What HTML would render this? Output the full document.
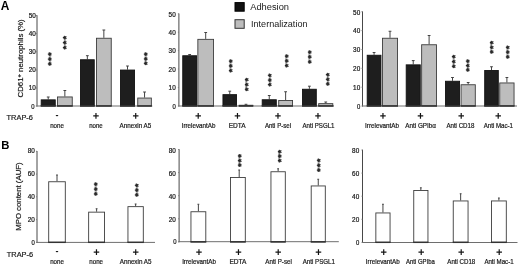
<!DOCTYPE html>
<html><head><meta charset="utf-8"><title>Figure</title>
<style>
html,body{margin:0;padding:0;background:#fff;}
body{width:520px;height:265px;overflow:hidden;}
svg{display:block;will-change:transform;filter:blur(0.3px);font-family:"Liberation Sans",Arial,sans-serif;}
</style></head><body>
<svg width="520" height="265" viewBox="0 0 520 265">
<rect x="0" y="0" width="520" height="265" fill="#ffffff"/>
<text x="0.7" y="9.5" font-size="11.9" text-anchor="start" fill="#000" font-weight="bold" >A</text>
<text x="1.2" y="149.2" font-size="11.3" text-anchor="start" fill="#000" font-weight="bold" >B</text>
<rect x="235" y="2.6" width="9.2" height="8.6" fill="#111" stroke="#000" stroke-width="1"/>
<text x="250.2" y="9.8" font-size="9.2" text-anchor="start" fill="#1a1a1a" textLength="38.8" lengthAdjust="spacingAndGlyphs" >Adhesion</text>
<rect x="235" y="19.7" width="9.2" height="8.6" fill="#bdbdbd" stroke="#333" stroke-width="1"/>
<text x="251.0" y="27.3" font-size="9.2" text-anchor="start" fill="#1a1a1a" textLength="56.5" lengthAdjust="spacingAndGlyphs" >Internalization</text>
<line x1="37" y1="15.2" x2="37" y2="106.5" stroke="#484848" stroke-width="1.0"/>
<line x1="36.5" y1="106" x2="152.3" y2="106" stroke="#6e6e6e" stroke-width="1.0"/>
<line x1="35.8" y1="106" x2="37" y2="106" stroke="#777" stroke-width="0.9"/>
<text x="34.5" y="109.0" font-size="6.5" text-anchor="end" fill="#1a1a1a" textLength="3.3" lengthAdjust="spacingAndGlyphs" stroke="#1a1a1a" stroke-width="0.22">0</text>
<line x1="35.8" y1="88" x2="37" y2="88" stroke="#777" stroke-width="0.9"/>
<text x="35.8" y="90.1" font-size="6.5" text-anchor="end" fill="#1a1a1a" textLength="7.1" lengthAdjust="spacingAndGlyphs" stroke="#1a1a1a" stroke-width="0.22">10</text>
<line x1="35.8" y1="70" x2="37" y2="70" stroke="#777" stroke-width="0.9"/>
<text x="35.8" y="72.1" font-size="6.5" text-anchor="end" fill="#1a1a1a" textLength="7.1" lengthAdjust="spacingAndGlyphs" stroke="#1a1a1a" stroke-width="0.22">20</text>
<line x1="35.8" y1="51.8" x2="37" y2="51.8" stroke="#777" stroke-width="0.9"/>
<text x="35.8" y="53.9" font-size="6.5" text-anchor="end" fill="#1a1a1a" textLength="7.1" lengthAdjust="spacingAndGlyphs" stroke="#1a1a1a" stroke-width="0.22">30</text>
<line x1="35.8" y1="33.6" x2="37" y2="33.6" stroke="#777" stroke-width="0.9"/>
<text x="35.8" y="35.7" font-size="6.5" text-anchor="end" fill="#1a1a1a" textLength="7.1" lengthAdjust="spacingAndGlyphs" stroke="#1a1a1a" stroke-width="0.22">40</text>
<line x1="35.8" y1="15.5" x2="37" y2="15.5" stroke="#777" stroke-width="0.9"/>
<text x="35.8" y="17.6" font-size="6.5" text-anchor="end" fill="#1a1a1a" textLength="7.1" lengthAdjust="spacingAndGlyphs" stroke="#1a1a1a" stroke-width="0.22">50</text>
<line x1="178.9" y1="13.5" x2="178.9" y2="106.5" stroke="#484848" stroke-width="1.0"/>
<line x1="178.4" y1="106" x2="334" y2="106" stroke="#6e6e6e" stroke-width="1.0"/>
<line x1="177.9" y1="106" x2="178.9" y2="106" stroke="#777" stroke-width="0.9"/>
<text x="175.70000000000002" y="108.69999999999999" font-size="6.5" text-anchor="end" fill="#1a1a1a" textLength="3.3" lengthAdjust="spacingAndGlyphs" stroke="#1a1a1a" stroke-width="0.22">0</text>
<line x1="177.9" y1="87.5" x2="178.9" y2="87.5" stroke="#777" stroke-width="0.9"/>
<text x="175.70000000000002" y="90.19999999999999" font-size="6.5" text-anchor="end" fill="#1a1a1a" textLength="7.1" lengthAdjust="spacingAndGlyphs" stroke="#1a1a1a" stroke-width="0.22">10</text>
<line x1="177.9" y1="69" x2="178.9" y2="69" stroke="#777" stroke-width="0.9"/>
<text x="175.70000000000002" y="71.69999999999999" font-size="6.5" text-anchor="end" fill="#1a1a1a" textLength="7.1" lengthAdjust="spacingAndGlyphs" stroke="#1a1a1a" stroke-width="0.22">20</text>
<line x1="177.9" y1="50.6" x2="178.9" y2="50.6" stroke="#777" stroke-width="0.9"/>
<text x="175.70000000000002" y="53.300000000000004" font-size="6.5" text-anchor="end" fill="#1a1a1a" textLength="7.1" lengthAdjust="spacingAndGlyphs" stroke="#1a1a1a" stroke-width="0.22">30</text>
<line x1="177.9" y1="32.2" x2="178.9" y2="32.2" stroke="#777" stroke-width="0.9"/>
<text x="175.70000000000002" y="34.900000000000006" font-size="6.5" text-anchor="end" fill="#1a1a1a" textLength="7.1" lengthAdjust="spacingAndGlyphs" stroke="#1a1a1a" stroke-width="0.22">40</text>
<line x1="177.9" y1="13.8" x2="178.9" y2="13.8" stroke="#777" stroke-width="0.9"/>
<text x="175.70000000000002" y="16.5" font-size="6.5" text-anchor="end" fill="#1a1a1a" textLength="7.1" lengthAdjust="spacingAndGlyphs" stroke="#1a1a1a" stroke-width="0.22">50</text>
<line x1="362.5" y1="11.399999999999999" x2="362.5" y2="106.5" stroke="#484848" stroke-width="1.0"/>
<line x1="362.0" y1="106" x2="517" y2="106" stroke="#6e6e6e" stroke-width="1.0"/>
<line x1="361.5" y1="106" x2="362.5" y2="106" stroke="#777" stroke-width="0.9"/>
<text x="360.2" y="108.8" font-size="6.5" text-anchor="end" fill="#1a1a1a" textLength="3.3" lengthAdjust="spacingAndGlyphs" stroke="#1a1a1a" stroke-width="0.22">0</text>
<line x1="361.5" y1="87.2" x2="362.5" y2="87.2" stroke="#777" stroke-width="0.9"/>
<text x="360.2" y="90.0" font-size="6.5" text-anchor="end" fill="#1a1a1a" textLength="7.1" lengthAdjust="spacingAndGlyphs" stroke="#1a1a1a" stroke-width="0.22">10</text>
<line x1="361.5" y1="68.3" x2="362.5" y2="68.3" stroke="#777" stroke-width="0.9"/>
<text x="360.2" y="71.1" font-size="6.5" text-anchor="end" fill="#1a1a1a" textLength="7.1" lengthAdjust="spacingAndGlyphs" stroke="#1a1a1a" stroke-width="0.22">20</text>
<line x1="361.5" y1="49.5" x2="362.5" y2="49.5" stroke="#777" stroke-width="0.9"/>
<text x="360.2" y="52.300000000000004" font-size="6.5" text-anchor="end" fill="#1a1a1a" textLength="7.1" lengthAdjust="spacingAndGlyphs" stroke="#1a1a1a" stroke-width="0.22">30</text>
<line x1="361.5" y1="30.6" x2="362.5" y2="30.6" stroke="#777" stroke-width="0.9"/>
<text x="360.2" y="33.400000000000006" font-size="6.5" text-anchor="end" fill="#1a1a1a" textLength="7.1" lengthAdjust="spacingAndGlyphs" stroke="#1a1a1a" stroke-width="0.22">40</text>
<line x1="361.5" y1="11.7" x2="362.5" y2="11.7" stroke="#777" stroke-width="0.9"/>
<text x="360.2" y="14.499999999999998" font-size="6.5" text-anchor="end" fill="#1a1a1a" textLength="7.1" lengthAdjust="spacingAndGlyphs" stroke="#1a1a1a" stroke-width="0.22">50</text>
<line x1="48.225" y1="97.0" x2="48.225" y2="99.4" stroke="#444444" stroke-width="1"/>
<line x1="46.825" y1="97.0" x2="49.625" y2="97.0" stroke="#444444" stroke-width="1"/>
<rect x="41.2" y="99.85000000000001" width="14.050000000000002" height="6.149999999999994" fill="#1e1e1e" stroke="#111" stroke-width="0.9"/>
<line x1="40.75" y1="105.9" x2="55.7" y2="105.9" stroke="#333" stroke-width="1.5"/>
<line x1="64.85" y1="90.5" x2="64.85" y2="96.5" stroke="#444444" stroke-width="1"/>
<line x1="63.449999999999996" y1="90.5" x2="66.25" y2="90.5" stroke="#444444" stroke-width="1"/>
<rect x="57.45" y="96.95" width="14.800000000000002" height="9.05" fill="#bdbdbd" stroke="#3c3c3c" stroke-width="0.9"/>
<line x1="57" y1="105.9" x2="72.7" y2="105.9" stroke="#333" stroke-width="1.5"/>
<line x1="87.35" y1="55.7" x2="87.35" y2="59.3" stroke="#444444" stroke-width="1"/>
<line x1="85.94999999999999" y1="55.7" x2="88.75" y2="55.7" stroke="#444444" stroke-width="1"/>
<rect x="80.45" y="59.75" width="13.800000000000002" height="46.25" fill="#1e1e1e" stroke="#111" stroke-width="0.9"/>
<line x1="80" y1="105.9" x2="94.7" y2="105.9" stroke="#333" stroke-width="1.5"/>
<line x1="103.85" y1="30" x2="103.85" y2="37.8" stroke="#444444" stroke-width="1"/>
<line x1="102.44999999999999" y1="30" x2="105.25" y2="30" stroke="#444444" stroke-width="1"/>
<rect x="96.45" y="38.25" width="14.800000000000002" height="67.75" fill="#bdbdbd" stroke="#3c3c3c" stroke-width="0.9"/>
<line x1="96" y1="105.9" x2="111.7" y2="105.9" stroke="#333" stroke-width="1.5"/>
<line x1="127.5" y1="66" x2="127.5" y2="69.6" stroke="#444444" stroke-width="1"/>
<line x1="126.1" y1="66" x2="128.9" y2="66" stroke="#444444" stroke-width="1"/>
<rect x="120.45" y="70.05" width="14.1" height="35.95" fill="#1e1e1e" stroke="#111" stroke-width="0.9"/>
<line x1="120" y1="105.9" x2="135" y2="105.9" stroke="#333" stroke-width="1.5"/>
<line x1="144.55" y1="92" x2="144.55" y2="97.6" stroke="#444444" stroke-width="1"/>
<line x1="143.15" y1="92" x2="145.95000000000002" y2="92" stroke="#444444" stroke-width="1"/>
<rect x="137.75" y="98.05" width="13.6" height="7.9500000000000055" fill="#bdbdbd" stroke="#3c3c3c" stroke-width="0.9"/>
<line x1="137.3" y1="105.9" x2="151.8" y2="105.9" stroke="#333" stroke-width="1.5"/>
<line x1="189.65" y1="54.5" x2="189.65" y2="55.3" stroke="#444444" stroke-width="1"/>
<line x1="188.25" y1="54.5" x2="191.05" y2="54.5" stroke="#444444" stroke-width="1"/>
<rect x="182.75" y="55.75" width="13.799999999999988" height="50.25" fill="#1e1e1e" stroke="#111" stroke-width="0.9"/>
<line x1="182.3" y1="105.9" x2="197.0" y2="105.9" stroke="#333" stroke-width="1.5"/>
<line x1="205.7" y1="32.5" x2="205.7" y2="38.9" stroke="#444444" stroke-width="1"/>
<line x1="204.29999999999998" y1="32.5" x2="207.1" y2="32.5" stroke="#444444" stroke-width="1"/>
<rect x="197.85" y="39.35" width="15.699999999999994" height="66.64999999999999" fill="#bdbdbd" stroke="#3c3c3c" stroke-width="0.9"/>
<line x1="197.4" y1="105.9" x2="214" y2="105.9" stroke="#333" stroke-width="1.5"/>
<line x1="229.75" y1="91.2" x2="229.75" y2="94.2" stroke="#444444" stroke-width="1"/>
<line x1="228.35" y1="91.2" x2="231.15" y2="91.2" stroke="#444444" stroke-width="1"/>
<rect x="222.95" y="94.65" width="13.6" height="11.349999999999998" fill="#1e1e1e" stroke="#111" stroke-width="0.9"/>
<line x1="222.5" y1="105.9" x2="237" y2="105.9" stroke="#333" stroke-width="1.5"/>
<line x1="246.0" y1="104.3" x2="246.0" y2="104.8" stroke="#444444" stroke-width="1"/>
<line x1="244.6" y1="104.3" x2="247.4" y2="104.3" stroke="#444444" stroke-width="1"/>
<rect x="239.2" y="105.25" width="13.6" height="0.7500000000000029" fill="#bdbdbd" stroke="#3c3c3c" stroke-width="0.9"/>
<line x1="238.75" y1="105.9" x2="253.25" y2="105.9" stroke="#333" stroke-width="1.5"/>
<line x1="269.25" y1="95.5" x2="269.25" y2="99.3" stroke="#444444" stroke-width="1"/>
<line x1="267.85" y1="95.5" x2="270.65" y2="95.5" stroke="#444444" stroke-width="1"/>
<rect x="262.2" y="99.75" width="14.1" height="6.250000000000003" fill="#1e1e1e" stroke="#111" stroke-width="0.9"/>
<line x1="261.75" y1="105.9" x2="276.75" y2="105.9" stroke="#333" stroke-width="1.5"/>
<line x1="285.625" y1="91.75" x2="285.625" y2="100" stroke="#444444" stroke-width="1"/>
<line x1="284.225" y1="91.75" x2="287.025" y2="91.75" stroke="#444444" stroke-width="1"/>
<rect x="278.7" y="100.45" width="13.85" height="5.55" fill="#bdbdbd" stroke="#3c3c3c" stroke-width="0.9"/>
<line x1="278.25" y1="105.9" x2="293" y2="105.9" stroke="#333" stroke-width="1.5"/>
<line x1="309.375" y1="86.2" x2="309.375" y2="88.8" stroke="#444444" stroke-width="1"/>
<line x1="307.975" y1="86.2" x2="310.775" y2="86.2" stroke="#444444" stroke-width="1"/>
<rect x="302.45" y="89.25" width="13.85" height="16.750000000000004" fill="#1e1e1e" stroke="#111" stroke-width="0.9"/>
<line x1="302" y1="105.9" x2="316.75" y2="105.9" stroke="#333" stroke-width="1.5"/>
<line x1="325.75" y1="102" x2="325.75" y2="103.2" stroke="#444444" stroke-width="1"/>
<line x1="324.35" y1="102" x2="327.15" y2="102" stroke="#444444" stroke-width="1"/>
<rect x="318.7" y="103.65" width="14.1" height="2.349999999999997" fill="#bdbdbd" stroke="#3c3c3c" stroke-width="0.9"/>
<line x1="318.25" y1="105.9" x2="333.25" y2="105.9" stroke="#333" stroke-width="1.5"/>
<line x1="374.075" y1="52.5" x2="374.075" y2="54.8" stroke="#444444" stroke-width="1"/>
<line x1="372.675" y1="52.5" x2="375.47499999999997" y2="52.5" stroke="#444444" stroke-width="1"/>
<rect x="367.2" y="55.25" width="13.749999999999977" height="50.75" fill="#1e1e1e" stroke="#111" stroke-width="0.9"/>
<line x1="366.75" y1="105.9" x2="381.4" y2="105.9" stroke="#333" stroke-width="1.5"/>
<line x1="390.0" y1="31.25" x2="390.0" y2="37.8" stroke="#444444" stroke-width="1"/>
<line x1="388.6" y1="31.25" x2="391.4" y2="31.25" stroke="#444444" stroke-width="1"/>
<rect x="382.45" y="38.25" width="15.1" height="67.75" fill="#bdbdbd" stroke="#3c3c3c" stroke-width="0.9"/>
<line x1="382.0" y1="105.9" x2="398.0" y2="105.9" stroke="#333" stroke-width="1.5"/>
<line x1="413.225" y1="60.6" x2="413.225" y2="64.4" stroke="#444444" stroke-width="1"/>
<line x1="411.82500000000005" y1="60.6" x2="414.625" y2="60.6" stroke="#444444" stroke-width="1"/>
<rect x="406.2" y="64.85000000000001" width="14.049999999999988" height="41.14999999999999" fill="#1e1e1e" stroke="#111" stroke-width="0.9"/>
<line x1="405.75" y1="105.9" x2="420.7" y2="105.9" stroke="#333" stroke-width="1.5"/>
<line x1="429.1" y1="35.5" x2="429.1" y2="44.3" stroke="#444444" stroke-width="1"/>
<line x1="427.70000000000005" y1="35.5" x2="430.5" y2="35.5" stroke="#444444" stroke-width="1"/>
<rect x="421.65" y="44.75" width="14.900000000000011" height="61.25" fill="#bdbdbd" stroke="#3c3c3c" stroke-width="0.9"/>
<line x1="421.2" y1="105.9" x2="437.0" y2="105.9" stroke="#333" stroke-width="1.5"/>
<line x1="452.5" y1="77.5" x2="452.5" y2="80.8" stroke="#444444" stroke-width="1"/>
<line x1="451.1" y1="77.5" x2="453.9" y2="77.5" stroke="#444444" stroke-width="1"/>
<rect x="445.45" y="81.25" width="14.1" height="24.750000000000004" fill="#1e1e1e" stroke="#111" stroke-width="0.9"/>
<line x1="445" y1="105.9" x2="460" y2="105.9" stroke="#333" stroke-width="1.5"/>
<line x1="468.175" y1="82.5" x2="468.175" y2="84.3" stroke="#444444" stroke-width="1"/>
<line x1="466.77500000000003" y1="82.5" x2="469.575" y2="82.5" stroke="#444444" stroke-width="1"/>
<rect x="461.05" y="84.75" width="14.249999999999977" height="21.250000000000004" fill="#bdbdbd" stroke="#3c3c3c" stroke-width="0.9"/>
<line x1="460.6" y1="105.9" x2="475.75" y2="105.9" stroke="#333" stroke-width="1.5"/>
<line x1="491.5" y1="66.75" x2="491.5" y2="70" stroke="#444444" stroke-width="1"/>
<line x1="490.1" y1="66.75" x2="492.9" y2="66.75" stroke="#444444" stroke-width="1"/>
<rect x="484.7" y="70.45" width="13.6" height="35.55" fill="#1e1e1e" stroke="#111" stroke-width="0.9"/>
<line x1="484.25" y1="105.9" x2="498.75" y2="105.9" stroke="#333" stroke-width="1.5"/>
<line x1="506.9" y1="77.5" x2="506.9" y2="82.5" stroke="#444444" stroke-width="1"/>
<line x1="505.5" y1="77.5" x2="508.29999999999995" y2="77.5" stroke="#444444" stroke-width="1"/>
<rect x="499.75" y="82.95" width="14.299999999999988" height="23.05" fill="#bdbdbd" stroke="#3c3c3c" stroke-width="0.9"/>
<line x1="499.3" y1="105.9" x2="514.5" y2="105.9" stroke="#333" stroke-width="1.5"/>
<rect x="48.90" y="52.80" width="2.2" height="12.80" fill="#444" opacity="0.42"/>
<text x="0" y="0" font-size="8.6" font-weight="bold" text-anchor="middle" fill="#222" stroke="#222" stroke-width="0.3" transform="translate(48.60 59.05) rotate(-90)" dy="5.75" textLength="13.10" lengthAdjust="spacing">***</text>
<rect x="63.90" y="36.30" width="2.2" height="13.05" fill="#444" opacity="0.42"/>
<text x="0" y="0" font-size="8.6" font-weight="bold" text-anchor="middle" fill="#222" stroke="#222" stroke-width="0.3" transform="translate(63.60 42.67) rotate(-90)" dy="5.75" textLength="13.35" lengthAdjust="spacing">***</text>
<rect x="144.65" y="52.80" width="2.2" height="12.30" fill="#444" opacity="0.42"/>
<text x="0" y="0" font-size="8.6" font-weight="bold" text-anchor="middle" fill="#222" stroke="#222" stroke-width="0.3" transform="translate(144.35 58.80) rotate(-90)" dy="5.75" textLength="12.60" lengthAdjust="spacing">***</text>
<rect x="229.40" y="59.80" width="2.2" height="12.55" fill="#444" opacity="0.42"/>
<text x="0" y="0" font-size="8.6" font-weight="bold" text-anchor="middle" fill="#222" stroke="#222" stroke-width="0.3" transform="translate(229.10 65.92) rotate(-90)" dy="5.75" textLength="12.85" lengthAdjust="spacing">***</text>
<rect x="245.15" y="78.30" width="2.2" height="12.80" fill="#444" opacity="0.42"/>
<text x="0" y="0" font-size="8.6" font-weight="bold" text-anchor="middle" fill="#222" stroke="#222" stroke-width="0.3" transform="translate(244.85 84.55) rotate(-90)" dy="5.75" textLength="13.10" lengthAdjust="spacing">***</text>
<rect x="268.90" y="74.05" width="2.2" height="12.30" fill="#444" opacity="0.42"/>
<text x="0" y="0" font-size="8.6" font-weight="bold" text-anchor="middle" fill="#222" stroke="#222" stroke-width="0.3" transform="translate(268.60 80.05) rotate(-90)" dy="5.75" textLength="12.60" lengthAdjust="spacing">***</text>
<rect x="285.15" y="54.80" width="2.2" height="12.55" fill="#444" opacity="0.42"/>
<text x="0" y="0" font-size="8.6" font-weight="bold" text-anchor="middle" fill="#222" stroke="#222" stroke-width="0.3" transform="translate(284.85 60.92) rotate(-90)" dy="5.75" textLength="12.85" lengthAdjust="spacing">***</text>
<rect x="308.30" y="50.80" width="2.2" height="12.60" fill="#444" opacity="0.42"/>
<text x="0" y="0" font-size="8.6" font-weight="bold" text-anchor="middle" fill="#222" stroke="#222" stroke-width="0.3" transform="translate(308.00 56.95) rotate(-90)" dy="5.75" textLength="12.90" lengthAdjust="spacing">***</text>
<rect x="326.90" y="73.30" width="2.2" height="12.30" fill="#444" opacity="0.42"/>
<text x="0" y="0" font-size="8.6" font-weight="bold" text-anchor="middle" fill="#222" stroke="#222" stroke-width="0.3" transform="translate(326.60 79.30) rotate(-90)" dy="5.75" textLength="12.60" lengthAdjust="spacing">***</text>
<rect x="452.65" y="55.30" width="2.2" height="12.80" fill="#444" opacity="0.42"/>
<text x="0" y="0" font-size="8.6" font-weight="bold" text-anchor="middle" fill="#222" stroke="#222" stroke-width="0.3" transform="translate(452.35 61.55) rotate(-90)" dy="5.75" textLength="13.10" lengthAdjust="spacing">***</text>
<rect x="466.90" y="59.80" width="2.2" height="11.80" fill="#444" opacity="0.42"/>
<text x="0" y="0" font-size="8.6" font-weight="bold" text-anchor="middle" fill="#222" stroke="#222" stroke-width="0.3" transform="translate(466.60 65.55) rotate(-90)" dy="5.75" textLength="12.10" lengthAdjust="spacing">***</text>
<rect x="490.15" y="41.30" width="2.2" height="12.30" fill="#444" opacity="0.42"/>
<text x="0" y="0" font-size="8.6" font-weight="bold" text-anchor="middle" fill="#222" stroke="#222" stroke-width="0.3" transform="translate(489.85 47.30) rotate(-90)" dy="5.75" textLength="12.60" lengthAdjust="spacing">***</text>
<rect x="506.40" y="46.05" width="2.2" height="12.55" fill="#444" opacity="0.42"/>
<text x="0" y="0" font-size="8.6" font-weight="bold" text-anchor="middle" fill="#222" stroke="#222" stroke-width="0.3" transform="translate(506.10 52.17) rotate(-90)" dy="5.75" textLength="12.85" lengthAdjust="spacing">***</text>
<text x="23.2" y="58.4" font-size="7.4" text-anchor="middle" fill="#1a1a1a" textLength="78.2" lengthAdjust="spacingAndGlyphs" transform="rotate(-90 23.2 58.4)" stroke="#1a1a1a" stroke-width="0.2">CD61<tspan font-size="5.5" font-weight="bold" dy="-2.6">+</tspan><tspan dy="2.6"> neutrophils (%)</tspan></text>
<text x="20.6" y="196.6" font-size="7.4" text-anchor="middle" fill="#1a1a1a" textLength="68.4" lengthAdjust="spacingAndGlyphs" transform="rotate(-90 20.6 196.6)" stroke="#1a1a1a" stroke-width="0.2">MPO content (AUF)</text>
<text x="6.6" y="120.2" font-size="7.5" text-anchor="start" fill="#1a1a1a" textLength="26.3" lengthAdjust="spacingAndGlyphs" stroke="#1a1a1a" stroke-width="0.2">TRAP-6</text>
<text x="57.00" y="118.40" font-size="9" font-weight="bold" text-anchor="middle" fill="#111">-</text>
<text transform="translate(96.00 119.60) rotate(0.05)" font-size="11" font-weight="bold" text-anchor="middle" fill="#111">+</text>
<text transform="translate(135.75 119.60) rotate(0.05)" font-size="11" font-weight="bold" text-anchor="middle" fill="#111">+</text>
<text transform="translate(198.25 119.60) rotate(0.05)" font-size="11" font-weight="bold" text-anchor="middle" fill="#111">+</text>
<text transform="translate(237.50 119.60) rotate(0.05)" font-size="11" font-weight="bold" text-anchor="middle" fill="#111">+</text>
<text transform="translate(278.00 119.60) rotate(0.05)" font-size="11" font-weight="bold" text-anchor="middle" fill="#111">+</text>
<text transform="translate(318.00 119.60) rotate(0.05)" font-size="11" font-weight="bold" text-anchor="middle" fill="#111">+</text>
<text transform="translate(383.00 119.60) rotate(0.05)" font-size="11" font-weight="bold" text-anchor="middle" fill="#111">+</text>
<text transform="translate(420.50 119.60) rotate(0.05)" font-size="11" font-weight="bold" text-anchor="middle" fill="#111">+</text>
<text transform="translate(461.25 119.60) rotate(0.05)" font-size="11" font-weight="bold" text-anchor="middle" fill="#111">+</text>
<text transform="translate(498.25 119.60) rotate(0.05)" font-size="11" font-weight="bold" text-anchor="middle" fill="#111">+</text>
<text x="57" y="127.7" font-size="6.4" text-anchor="middle" fill="#1a1a1a" textLength="13.75" lengthAdjust="spacingAndGlyphs" stroke="#1a1a1a" stroke-width="0.2">none</text>
<text x="96" y="127.7" font-size="6.4" text-anchor="middle" fill="#1a1a1a" textLength="13.5" lengthAdjust="spacingAndGlyphs" stroke="#1a1a1a" stroke-width="0.2">none</text>
<text x="135.4" y="127.7" font-size="6.4" text-anchor="middle" fill="#1a1a1a" textLength="31.75" lengthAdjust="spacingAndGlyphs" stroke="#1a1a1a" stroke-width="0.2">Annexin A5</text>
<text x="198.6" y="127.7" font-size="6.4" text-anchor="middle" fill="#1a1a1a" textLength="33.75" lengthAdjust="spacingAndGlyphs" stroke="#1a1a1a" stroke-width="0.2">IrrelevantAb</text>
<text x="237.25" y="127.7" font-size="6.4" text-anchor="middle" fill="#1a1a1a" textLength="17" lengthAdjust="spacingAndGlyphs" stroke="#1a1a1a" stroke-width="0.2">EDTA</text>
<text x="278" y="127.7" font-size="6.4" text-anchor="middle" fill="#1a1a1a" textLength="26.25" lengthAdjust="spacingAndGlyphs" stroke="#1a1a1a" stroke-width="0.2">Anti P-sel</text>
<text x="318.5" y="128.0" font-size="6.4" text-anchor="middle" fill="#1a1a1a" textLength="32" lengthAdjust="spacingAndGlyphs" stroke="#1a1a1a" stroke-width="0.2">Anti PSGL1</text>
<text x="382.1" y="127.7" font-size="6.4" text-anchor="middle" fill="#1a1a1a" textLength="34" lengthAdjust="spacingAndGlyphs" stroke="#1a1a1a" stroke-width="0.2">IrrelevantAb</text>
<text x="420.6" y="127.7" font-size="6.4" text-anchor="middle" fill="#1a1a1a" textLength="30.75" lengthAdjust="spacingAndGlyphs" stroke="#1a1a1a" stroke-width="0.2">Anti GPIbα</text>
<text x="460.4" y="127.7" font-size="6.4" text-anchor="middle" fill="#1a1a1a" textLength="28" lengthAdjust="spacingAndGlyphs" stroke="#1a1a1a" stroke-width="0.2">Anti CD18</text>
<text x="498.4" y="127.7" font-size="6.4" text-anchor="middle" fill="#1a1a1a" textLength="29.25" lengthAdjust="spacingAndGlyphs" stroke="#1a1a1a" stroke-width="0.2">Anti Mac-1</text>
<line x1="37" y1="151.0" x2="37" y2="242.9" stroke="#484848" stroke-width="1.0"/>
<line x1="36.5" y1="242.4" x2="155" y2="242.4" stroke="#6e6e6e" stroke-width="1.0"/>
<line x1="36.0" y1="242.4" x2="37" y2="242.4" stroke="#777" stroke-width="0.9"/>
<text x="34.8" y="244.5" font-size="6.5" text-anchor="end" fill="#1a1a1a" textLength="3.3" lengthAdjust="spacingAndGlyphs" stroke="#1a1a1a" stroke-width="0.22">0</text>
<line x1="36.0" y1="219.6" x2="37" y2="219.6" stroke="#777" stroke-width="0.9"/>
<text x="34.8" y="221.7" font-size="6.5" text-anchor="end" fill="#1a1a1a" textLength="7.1" lengthAdjust="spacingAndGlyphs" stroke="#1a1a1a" stroke-width="0.22">20</text>
<line x1="36.0" y1="196.8" x2="37" y2="196.8" stroke="#777" stroke-width="0.9"/>
<text x="34.8" y="198.9" font-size="6.5" text-anchor="end" fill="#1a1a1a" textLength="7.1" lengthAdjust="spacingAndGlyphs" stroke="#1a1a1a" stroke-width="0.22">40</text>
<line x1="36.0" y1="174.1" x2="37" y2="174.1" stroke="#777" stroke-width="0.9"/>
<text x="34.8" y="176.2" font-size="6.5" text-anchor="end" fill="#1a1a1a" textLength="7.1" lengthAdjust="spacingAndGlyphs" stroke="#1a1a1a" stroke-width="0.22">60</text>
<line x1="36.0" y1="151.3" x2="37" y2="151.3" stroke="#777" stroke-width="0.9"/>
<text x="34.8" y="153.4" font-size="6.5" text-anchor="end" fill="#1a1a1a" textLength="7.1" lengthAdjust="spacingAndGlyphs" stroke="#1a1a1a" stroke-width="0.22">80</text>
<line x1="179.1" y1="149.2" x2="179.1" y2="242.2" stroke="#484848" stroke-width="1.0"/>
<line x1="178.6" y1="241.7" x2="338.8" y2="241.7" stroke="#6e6e6e" stroke-width="1.0"/>
<line x1="178.1" y1="241.9" x2="179.1" y2="241.9" stroke="#777" stroke-width="0.9"/>
<text x="176.5" y="244.4" font-size="6.5" text-anchor="end" fill="#1a1a1a" textLength="3.3" lengthAdjust="spacingAndGlyphs" stroke="#1a1a1a" stroke-width="0.22">0</text>
<line x1="178.1" y1="218.8" x2="179.1" y2="218.8" stroke="#777" stroke-width="0.9"/>
<text x="175.9" y="221.8" font-size="6.5" text-anchor="end" fill="#1a1a1a" textLength="7.1" lengthAdjust="spacingAndGlyphs" stroke="#1a1a1a" stroke-width="0.22">20</text>
<line x1="178.1" y1="195.7" x2="179.1" y2="195.7" stroke="#777" stroke-width="0.9"/>
<text x="175.9" y="198.7" font-size="6.5" text-anchor="end" fill="#1a1a1a" textLength="7.1" lengthAdjust="spacingAndGlyphs" stroke="#1a1a1a" stroke-width="0.22">40</text>
<line x1="178.1" y1="172.6" x2="179.1" y2="172.6" stroke="#777" stroke-width="0.9"/>
<text x="175.9" y="175.6" font-size="6.5" text-anchor="end" fill="#1a1a1a" textLength="7.1" lengthAdjust="spacingAndGlyphs" stroke="#1a1a1a" stroke-width="0.22">60</text>
<line x1="178.1" y1="149.5" x2="179.1" y2="149.5" stroke="#777" stroke-width="0.9"/>
<text x="175.9" y="152.5" font-size="6.5" text-anchor="end" fill="#1a1a1a" textLength="7.1" lengthAdjust="spacingAndGlyphs" stroke="#1a1a1a" stroke-width="0.22">80</text>
<line x1="362.5" y1="149.7" x2="362.5" y2="243.0" stroke="#484848" stroke-width="1.0"/>
<line x1="362.0" y1="242.5" x2="517.5" y2="242.5" stroke="#6e6e6e" stroke-width="1.0"/>
<line x1="361.5" y1="242.4" x2="362.5" y2="242.4" stroke="#777" stroke-width="0.9"/>
<text x="359.2" y="245.2" font-size="6.5" text-anchor="end" fill="#1a1a1a" textLength="3.3" lengthAdjust="spacingAndGlyphs" stroke="#1a1a1a" stroke-width="0.22">0</text>
<line x1="361.5" y1="219.3" x2="362.5" y2="219.3" stroke="#777" stroke-width="0.9"/>
<text x="359.2" y="222.1" font-size="6.5" text-anchor="end" fill="#1a1a1a" textLength="7.1" lengthAdjust="spacingAndGlyphs" stroke="#1a1a1a" stroke-width="0.22">20</text>
<line x1="361.5" y1="196.2" x2="362.5" y2="196.2" stroke="#777" stroke-width="0.9"/>
<text x="359.2" y="198.99999999999997" font-size="6.5" text-anchor="end" fill="#1a1a1a" textLength="7.1" lengthAdjust="spacingAndGlyphs" stroke="#1a1a1a" stroke-width="0.22">40</text>
<line x1="361.5" y1="173.1" x2="362.5" y2="173.1" stroke="#777" stroke-width="0.9"/>
<text x="359.2" y="175.89999999999998" font-size="6.5" text-anchor="end" fill="#1a1a1a" textLength="7.1" lengthAdjust="spacingAndGlyphs" stroke="#1a1a1a" stroke-width="0.22">60</text>
<line x1="361.5" y1="150" x2="362.5" y2="150" stroke="#777" stroke-width="0.9"/>
<text x="359.2" y="152.79999999999998" font-size="6.5" text-anchor="end" fill="#1a1a1a" textLength="7.1" lengthAdjust="spacingAndGlyphs" stroke="#1a1a1a" stroke-width="0.22">80</text>
<line x1="57.0" y1="175" x2="57.0" y2="181.3" stroke="#444444" stroke-width="1"/>
<line x1="56.1" y1="175" x2="57.9" y2="175" stroke="#444444" stroke-width="1"/>
<rect x="48.7" y="181.75" width="16.6" height="60.64999999999999" fill="#ffffff" stroke="#3c3c3c" stroke-width="0.9"/>
<line x1="48.25" y1="242.3" x2="65.75" y2="242.3" stroke="#333" stroke-width="1.5"/>
<line x1="96.6" y1="208.75" x2="96.6" y2="211.7" stroke="#444444" stroke-width="1"/>
<line x1="95.69999999999999" y1="208.75" x2="97.5" y2="208.75" stroke="#444444" stroke-width="1"/>
<rect x="88.65" y="212.14999999999998" width="15.899999999999997" height="30.250000000000018" fill="#ffffff" stroke="#3c3c3c" stroke-width="0.9"/>
<line x1="88.2" y1="242.3" x2="105" y2="242.3" stroke="#333" stroke-width="1.5"/>
<line x1="135.625" y1="204.0" x2="135.625" y2="206.2" stroke="#444444" stroke-width="1"/>
<line x1="134.725" y1="204.0" x2="136.525" y2="204.0" stroke="#444444" stroke-width="1"/>
<rect x="127.95" y="206.64999999999998" width="15.35" height="35.750000000000014" fill="#ffffff" stroke="#3c3c3c" stroke-width="0.9"/>
<line x1="127.5" y1="242.3" x2="143.75" y2="242.3" stroke="#333" stroke-width="1.5"/>
<line x1="198.375" y1="204.25" x2="198.375" y2="211.3" stroke="#444444" stroke-width="1"/>
<line x1="197.475" y1="204.25" x2="199.275" y2="204.25" stroke="#444444" stroke-width="1"/>
<rect x="190.95" y="211.75" width="14.85" height="30.149999999999995" fill="#ffffff" stroke="#3c3c3c" stroke-width="0.9"/>
<line x1="190.5" y1="241.8" x2="206.25" y2="241.8" stroke="#333" stroke-width="1.5"/>
<line x1="239.2" y1="170" x2="239.2" y2="177" stroke="#444444" stroke-width="1"/>
<line x1="238.29999999999998" y1="170" x2="240.1" y2="170" stroke="#444444" stroke-width="1"/>
<rect x="230.45" y="177.45" width="14.85" height="64.45" fill="#ffffff" stroke="#3c3c3c" stroke-width="0.9"/>
<line x1="230" y1="241.8" x2="245.75" y2="241.8" stroke="#333" stroke-width="1.5"/>
<line x1="278.125" y1="168.75" x2="278.125" y2="171.3" stroke="#444444" stroke-width="1"/>
<line x1="277.225" y1="168.75" x2="279.025" y2="168.75" stroke="#444444" stroke-width="1"/>
<rect x="270.95" y="171.75" width="14.35" height="70.14999999999999" fill="#ffffff" stroke="#3c3c3c" stroke-width="0.9"/>
<line x1="270.5" y1="241.8" x2="285.75" y2="241.8" stroke="#333" stroke-width="1.5"/>
<line x1="318.25" y1="179.25" x2="318.25" y2="185.5" stroke="#444444" stroke-width="1"/>
<line x1="317.35" y1="179.25" x2="319.15" y2="179.25" stroke="#444444" stroke-width="1"/>
<rect x="311.2" y="185.95" width="14.1" height="55.95" fill="#ffffff" stroke="#3c3c3c" stroke-width="0.9"/>
<line x1="310.75" y1="241.8" x2="325.75" y2="241.8" stroke="#333" stroke-width="1.5"/>
<line x1="382.95" y1="204.25" x2="382.95" y2="212.5" stroke="#444444" stroke-width="1"/>
<line x1="382.05" y1="204.25" x2="383.84999999999997" y2="204.25" stroke="#444444" stroke-width="1"/>
<rect x="375.84999999999997" y="212.95" width="14.200000000000022" height="29.450000000000006" fill="#ffffff" stroke="#3c3c3c" stroke-width="0.9"/>
<line x1="375.4" y1="242.3" x2="390.5" y2="242.3" stroke="#333" stroke-width="1.5"/>
<line x1="420.85" y1="187.8" x2="420.85" y2="190" stroke="#444444" stroke-width="1"/>
<line x1="419.95000000000005" y1="187.8" x2="421.75" y2="187.8" stroke="#444444" stroke-width="1"/>
<rect x="413.75" y="190.45" width="14.199999999999966" height="51.95" fill="#ffffff" stroke="#3c3c3c" stroke-width="0.9"/>
<line x1="413.3" y1="242.3" x2="428.4" y2="242.3" stroke="#333" stroke-width="1.5"/>
<line x1="460.65" y1="193.75" x2="460.65" y2="200.5" stroke="#444444" stroke-width="1"/>
<line x1="459.75" y1="193.75" x2="461.54999999999995" y2="193.75" stroke="#444444" stroke-width="1"/>
<rect x="453.25" y="200.95" width="14.799999999999988" height="41.45" fill="#ffffff" stroke="#3c3c3c" stroke-width="0.9"/>
<line x1="452.8" y1="242.3" x2="468.5" y2="242.3" stroke="#333" stroke-width="1.5"/>
<line x1="498.875" y1="198" x2="498.875" y2="200.5" stroke="#444444" stroke-width="1"/>
<line x1="497.975" y1="198" x2="499.775" y2="198" stroke="#444444" stroke-width="1"/>
<rect x="491.45" y="200.95" width="14.85" height="41.45" fill="#ffffff" stroke="#3c3c3c" stroke-width="0.9"/>
<line x1="491.0" y1="242.3" x2="506.75" y2="242.3" stroke="#333" stroke-width="1.5"/>
<rect x="94.65" y="182.80" width="2.2" height="12.80" fill="#444" opacity="0.42"/>
<text x="0" y="0" font-size="8.6" font-weight="bold" text-anchor="middle" fill="#222" stroke="#222" stroke-width="0.3" transform="translate(94.35 189.05) rotate(-90)" dy="5.75" textLength="13.10" lengthAdjust="spacing">***</text>
<rect x="135.90" y="184.00" width="2.2" height="12.60" fill="#444" opacity="0.42"/>
<text x="0" y="0" font-size="8.6" font-weight="bold" text-anchor="middle" fill="#222" stroke="#222" stroke-width="0.3" transform="translate(135.60 190.15) rotate(-90)" dy="5.75" textLength="12.90" lengthAdjust="spacing">***</text>
<rect x="238.40" y="154.55" width="2.2" height="12.30" fill="#444" opacity="0.42"/>
<text x="0" y="0" font-size="8.6" font-weight="bold" text-anchor="middle" fill="#222" stroke="#222" stroke-width="0.3" transform="translate(238.10 160.55) rotate(-90)" dy="5.75" textLength="12.60" lengthAdjust="spacing">***</text>
<rect x="278.15" y="150.30" width="2.2" height="12.05" fill="#444" opacity="0.42"/>
<text x="0" y="0" font-size="8.6" font-weight="bold" text-anchor="middle" fill="#222" stroke="#222" stroke-width="0.3" transform="translate(277.85 156.18) rotate(-90)" dy="5.75" textLength="12.35" lengthAdjust="spacing">***</text>
<rect x="317.65" y="159.05" width="2.2" height="12.80" fill="#444" opacity="0.42"/>
<text x="0" y="0" font-size="8.6" font-weight="bold" text-anchor="middle" fill="#222" stroke="#222" stroke-width="0.3" transform="translate(317.35 165.30) rotate(-90)" dy="5.75" textLength="13.10" lengthAdjust="spacing">***</text>
<text x="6.8" y="256.8" font-size="7.5" text-anchor="start" fill="#1a1a1a" textLength="26.3" lengthAdjust="spacingAndGlyphs" stroke="#1a1a1a" stroke-width="0.2">TRAP-6</text>
<text x="57.00" y="254.30" font-size="9" font-weight="bold" text-anchor="middle" fill="#111">-</text>
<text transform="translate(96.50 255.70) rotate(0.05)" font-size="11" font-weight="bold" text-anchor="middle" fill="#111">+</text>
<text transform="translate(135.60 255.70) rotate(0.05)" font-size="11" font-weight="bold" text-anchor="middle" fill="#111">+</text>
<text transform="translate(198.90 255.70) rotate(0.05)" font-size="11" font-weight="bold" text-anchor="middle" fill="#111">+</text>
<text transform="translate(238.40 255.70) rotate(0.05)" font-size="11" font-weight="bold" text-anchor="middle" fill="#111">+</text>
<text transform="translate(278.30 255.70) rotate(0.05)" font-size="11" font-weight="bold" text-anchor="middle" fill="#111">+</text>
<text transform="translate(318.40 255.70) rotate(0.05)" font-size="11" font-weight="bold" text-anchor="middle" fill="#111">+</text>
<text transform="translate(383.70 255.70) rotate(0.05)" font-size="11" font-weight="bold" text-anchor="middle" fill="#111">+</text>
<text transform="translate(421.30 255.70) rotate(0.05)" font-size="11" font-weight="bold" text-anchor="middle" fill="#111">+</text>
<text transform="translate(461.20 255.70) rotate(0.05)" font-size="11" font-weight="bold" text-anchor="middle" fill="#111">+</text>
<text transform="translate(499.10 255.70) rotate(0.05)" font-size="11" font-weight="bold" text-anchor="middle" fill="#111">+</text>
<text x="57" y="263.9" font-size="6.4" text-anchor="middle" fill="#1a1a1a" textLength="13.75" lengthAdjust="spacingAndGlyphs" stroke="#1a1a1a" stroke-width="0.2">none</text>
<text x="96.2" y="263.9" font-size="6.4" text-anchor="middle" fill="#1a1a1a" textLength="13.75" lengthAdjust="spacingAndGlyphs" stroke="#1a1a1a" stroke-width="0.2">none</text>
<text x="135.6" y="263.9" font-size="6.4" text-anchor="middle" fill="#1a1a1a" textLength="31.75" lengthAdjust="spacingAndGlyphs" stroke="#1a1a1a" stroke-width="0.2">Annexin A5</text>
<text x="199.0" y="263.9" font-size="6.4" text-anchor="middle" fill="#1a1a1a" textLength="33.75" lengthAdjust="spacingAndGlyphs" stroke="#1a1a1a" stroke-width="0.2">IrrelevantAb</text>
<text x="237.9" y="263.9" font-size="6.4" text-anchor="middle" fill="#1a1a1a" textLength="17" lengthAdjust="spacingAndGlyphs" stroke="#1a1a1a" stroke-width="0.2">EDTA</text>
<text x="278.6" y="263.9" font-size="6.4" text-anchor="middle" fill="#1a1a1a" textLength="26.6" lengthAdjust="spacingAndGlyphs" stroke="#1a1a1a" stroke-width="0.2">Anti P-sel</text>
<text x="318.8" y="263.9" font-size="6.4" text-anchor="middle" fill="#1a1a1a" textLength="32.3" lengthAdjust="spacingAndGlyphs" stroke="#1a1a1a" stroke-width="0.2">Anti PSGL1</text>
<text x="382.8" y="263.9" font-size="6.4" text-anchor="middle" fill="#1a1a1a" textLength="34" lengthAdjust="spacingAndGlyphs" stroke="#1a1a1a" stroke-width="0.2">IrrelevantAb</text>
<text x="420.4" y="263.9" font-size="6.4" text-anchor="middle" fill="#1a1a1a" textLength="28.75" lengthAdjust="spacingAndGlyphs" stroke="#1a1a1a" stroke-width="0.2">Anti GPIba</text>
<text x="461.3" y="263.9" font-size="6.4" text-anchor="middle" fill="#1a1a1a" textLength="28" lengthAdjust="spacingAndGlyphs" stroke="#1a1a1a" stroke-width="0.2">Anti CD18</text>
<text x="499.0" y="263.9" font-size="6.4" text-anchor="middle" fill="#1a1a1a" textLength="29.25" lengthAdjust="spacingAndGlyphs" stroke="#1a1a1a" stroke-width="0.2">Anti Mac-1</text>
</svg>
</body></html>
